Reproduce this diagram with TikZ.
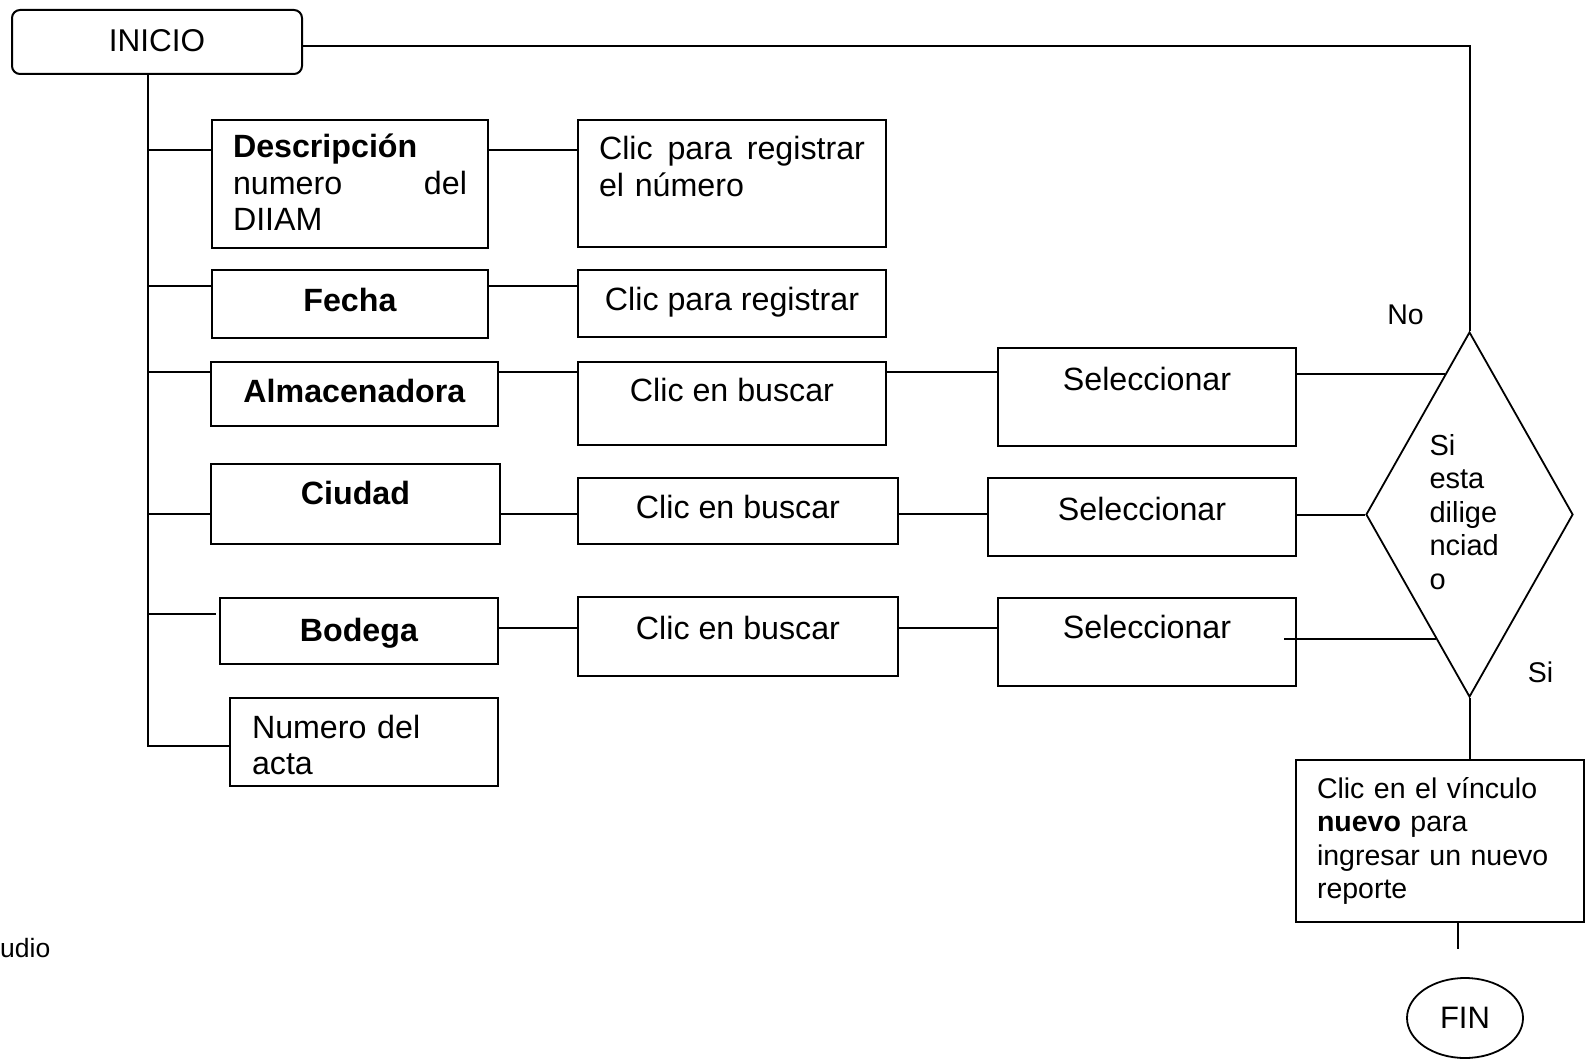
\documentclass[tikz,border=0pt]{standalone}
\usepackage{fontspec}
\setmainfont{Liberation Sans}
\usetikzlibrary{shapes.geometric,calc}

\tikzset{
  box/.style={draw, line width=2pt, rectangle, inner sep=0pt, font=\fontsize{32.2}{36.5}\selectfont},
  cell/.style n args={3}{box, minimum width=#1, text height=#2, text depth=#3},
  wrap/.style={align=left, inner xsep=21pt, text width=#1},
  line/.style={line width=2pt},
  lbl/.style={inner sep=0pt, font=\fontsize{28.5}{33}\selectfont}
}

\begin{document}
\begin{tikzpicture}[x=1pt, y=-1pt]
          \useasboundingbox (0,0) rectangle (1593,1059);

          \node [cell={290}{42}{22}, rounded corners=8pt, font=\fontsize{31.5}{36}\selectfont] (inicio) at (157,42) {INICIO}; % Start box

          \node [cell={276}{38}{90}, wrap=234] (desc) at (350,184) {\textbf{Descripción}\\numero\hfill del\\DIIAM}; % Left column
          \node [cell={276}{42}{26}] (fecha) at (350,304) {\textbf{Fecha}};
          \node [cell={287}{40}{24}] (alm) at (354.5,394) {\textbf{Almacenadora}};
          \node [cell={289}{40}{40}] (ciudad) at (355.5,504) {\textbf{Ciudad}};
          \node [cell={278}{43}{23}] (bodega) at (359,631) {\textbf{Bodega}};
          \node [cell={268}{40}{48}, wrap=224, inner xsep=22pt] (acta) at (364,742) {Numero del\\acta};

          \node [cell={308}{40}{87}, wrap=266] (regnum) at (732,183.5) {Clic\hfill para\hfill registrar\\el número}; % Middle column
          \node [cell={308}{41}{26}] (reg) at (732,303.5) {Clic para registrar};
          \node [cell={308}{39}{44}] (busc1) at (732,403.5) {Clic en buscar};
          \node [cell={320}{40}{26}] (busc2) at (738,511) {Clic en buscar};
          \node [cell={320}{42}{37}] (busc3) at (738,636.5) {Clic en buscar};

          \node [cell={298}{42}{56}] (sel1) at (1147,397) {Seleccionar}; % Right column
          \node [cell={308}{42}{36}] (sel2) at (1142,517) {Seleccionar};
          \node [cell={298}{40}{48}] (sel3) at (1147,642) {Seleccionar};

          \node [draw, line width=1.8pt, diamond, aspect=0.567, minimum width=207pt, minimum height=365pt,
                 inner sep=0pt, text width=80pt, align=left, text height=22pt, text depth=141pt,
                 font=\fontsize{29}{33.5}\selectfont] (dec) at (1469.5,514.5) {Si\\esta\\dilige\\nciad\\o}; % Decision

          \node [cell={288}{38}{124}, wrap=246, font=\fontsize{28.5}{33.5}\selectfont] (nuevo) at (1440,841)
                {Clic en el vínculo\\\textbf{nuevo} para\\ingresar un nuevo\\reporte};
          \node [draw, line width=1.8pt, ellipse, minimum width=116pt, minimum height=80pt, inner sep=0pt,
                 font=\fontsize{31}{36}\selectfont] (fin) at (1465,1018) {FIN}; % End

          \node [lbl] (no) at (1405.5,315) {No};
          \node [lbl] (si) at (1540.5,672) {Si};
          \node [lbl, anchor=west, font=\fontsize{26.5}{30}\selectfont] (udio) at (0,948) {udio};

          \coordinate (trunk) at ([xshift=-9pt]inicio.south);
          \coordinate (r1) at ([yshift=34pt]desc.west);
          \coordinate (r2) at ([yshift=18pt]fecha.west);
          \coordinate (r3) at ([yshift=22pt]alm.west);
          \coordinate (r4) at ([yshift=-10pt]ciudad.west);
          \coordinate (r5a) at ([yshift=17pt]bodega.west);
          \coordinate (r5) at ([yshift=3pt]bodega.east);
          \coordinate (p1) at ($(dec.north)!0.236!(dec.west)$);
          \coordinate (p3) at ($(dec.west)!0.678!(dec.south)$);
          \coordinate (s3) at ([xshift=-13pt]sel3.east);
          \coordinate (stub) at ([xshift=18pt,yshift=-26pt]nuevo.south);

          \draw [line] ([yshift=-4pt]inicio.east) -| (dec.north); % Return line
          \draw [line] (trunk) |- ([yshift=-4pt]acta.west); % Trunk

          \draw [line] (trunk |- r1) -- (r1);
          \draw [line] (desc.east |- r1) -- (regnum.west |- r1);

          \draw [line] (trunk |- r2) -- (r2);
          \draw [line] (fecha.east |- r2) -- (reg.west |- r2);

          \draw [line] (trunk |- r3) -- (r3);
          \draw [line] (alm.east |- r3) -- (busc1.west |- r3);
          \draw [line] (busc1.east |- r3) -- (sel1.west |- r3);
          \draw [line] (sel1.east |- p1) -- (p1);

          \draw [line] (trunk |- r4) -- (r4);
          \draw [line] (ciudad.east |- r4) -- (busc2.west |- r4);
          \draw [line] (busc2.east |- r4) -- (sel2.west |- r4);
          \draw [line] (sel2.east |- dec.west) -- (dec.west);

          \draw [line] (trunk |- r5a) -- ([xshift=-3pt]r5a);
          \draw [line] (r5) -- (busc3.west |- r5);
          \draw [line] (busc3.east |- r5) -- (sel3.west |- r5);
          \draw [line] (s3 |- p3) -- (p3);

          \draw [line] (dec.south) -- (dec.south |- nuevo.north);
          \draw [line] (stub |- nuevo.south) -- (stub);
\end{tikzpicture}
\end{document}
